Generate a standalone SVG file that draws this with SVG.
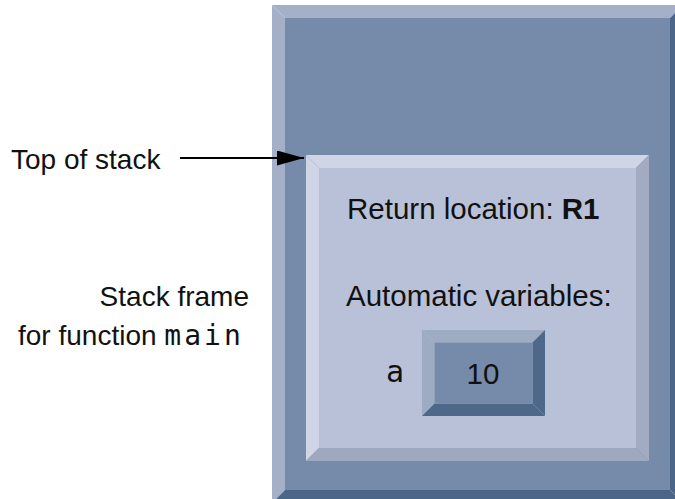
<svg xmlns="http://www.w3.org/2000/svg" width="675" height="499" viewBox="0 0 675 499">
  <defs>
    <marker id="arrowHead" markerUnits="userSpaceOnUse" markerWidth="28" markerHeight="16" refX="27" refY="7.5" orient="auto">
      <path d="M0,0 L27,7.5 L0,15 Z" fill="#000"/>
    </marker>
  </defs>
  <style>
    .lbl { font-family: "Liberation Sans", Arial, sans-serif; font-size: 28px; fill: #111; }
    .txt { font-family: "Liberation Sans", Arial, sans-serif; font-size: 29.5px; fill: #111; }
    .code { font-family: "DejaVu Sans Mono", "Liberation Mono", monospace; fill: #111; }
    .stk-hi { fill: #a3b0c7; }
    .stk-face { fill: #768ba9; }
    .stk-lo { fill: #4b6688; }
    .frm-hi { fill: #cfd5e4; }
    .frm-face { fill: #b8c1d7; }
    .frm-lo-r { fill: #a2abc1; }
    .frm-lo-b { fill: #9ea8be; }
    .val-hi { fill: #9eacc3; }
    .val-face { fill: #768ba9; }
    .val-lo { fill: #4d6889; }
  </style>

  <rect width="675" height="499" fill="#ffffff"/>

  <!-- the stack: bevelled container, extends past the right and bottom edges -->
  <g id="stack">
    <polygon class="stk-hi" points="272,5 683,5 670,18 285,18"/>
    <polygon class="stk-hi" points="272,5 285,18 285,490 272,503"/>
    <polygon class="stk-lo" points="683,5 683,503 670,490 670,18"/>
    <polygon class="stk-lo" points="272,503 683,503 670,490 285,490"/>
    <rect class="stk-face" x="285" y="18" width="385" height="472"/>
  </g>

  <!-- stack frame for main -->
  <g id="frame-main">
    <polygon class="frm-hi" points="306,155 649,155 636,168 319,168"/>
    <polygon class="frm-hi" points="306,155 319,168 319,448 306,461"/>
    <polygon class="frm-lo-r" points="649,155 649,461 636,448 636,168"/>
    <polygon class="frm-lo-b" points="306,461 649,461 636,448 319,448"/>
    <rect class="frm-face" x="319" y="168" width="317" height="280"/>
    <text class="txt" x="347" y="219">Return location: <tspan font-weight="bold">R1</tspan></text>
    <text class="txt" x="346" y="306">Automatic variables:</text>
  </g>

  <!-- automatic variable a -->
  <g id="var-a">
    <text class="code" x="395" y="382" font-size="30" text-anchor="middle">a</text>
    <polygon class="val-hi" points="422,330 545,330 532.5,342.5 434.5,342.5"/>
    <polygon class="val-hi" points="422,330 434.5,342.5 434.5,403.5 422,416"/>
    <polygon class="val-lo" points="545,330 545,416 532.5,403.5 532.5,342.5"/>
    <polygon class="val-lo" points="422,416 545,416 532.5,403.5 434.5,403.5"/>
    <rect class="val-face" x="434.5" y="342.5" width="98" height="61"/>
    <text class="txt" x="483" y="384" font-size="31" text-anchor="middle">10</text>
  </g>

  <!-- side labels -->
  <g id="label-top">
    <text class="lbl" x="11" y="169">Top of stack</text>
  </g>
  <g id="label-frame">
    <text class="lbl" x="249" y="306" text-anchor="end">Stack frame</text>
    <text class="lbl" x="18" y="345">for function <tspan class="code" font-size="28" letter-spacing="3">main</tspan></text>
  </g>

  <g id="connectors">
    <line x1="180" y1="158" x2="304" y2="158" stroke="#000" stroke-width="2" marker-end="url(#arrowHead)"/>
  </g>
</svg>
